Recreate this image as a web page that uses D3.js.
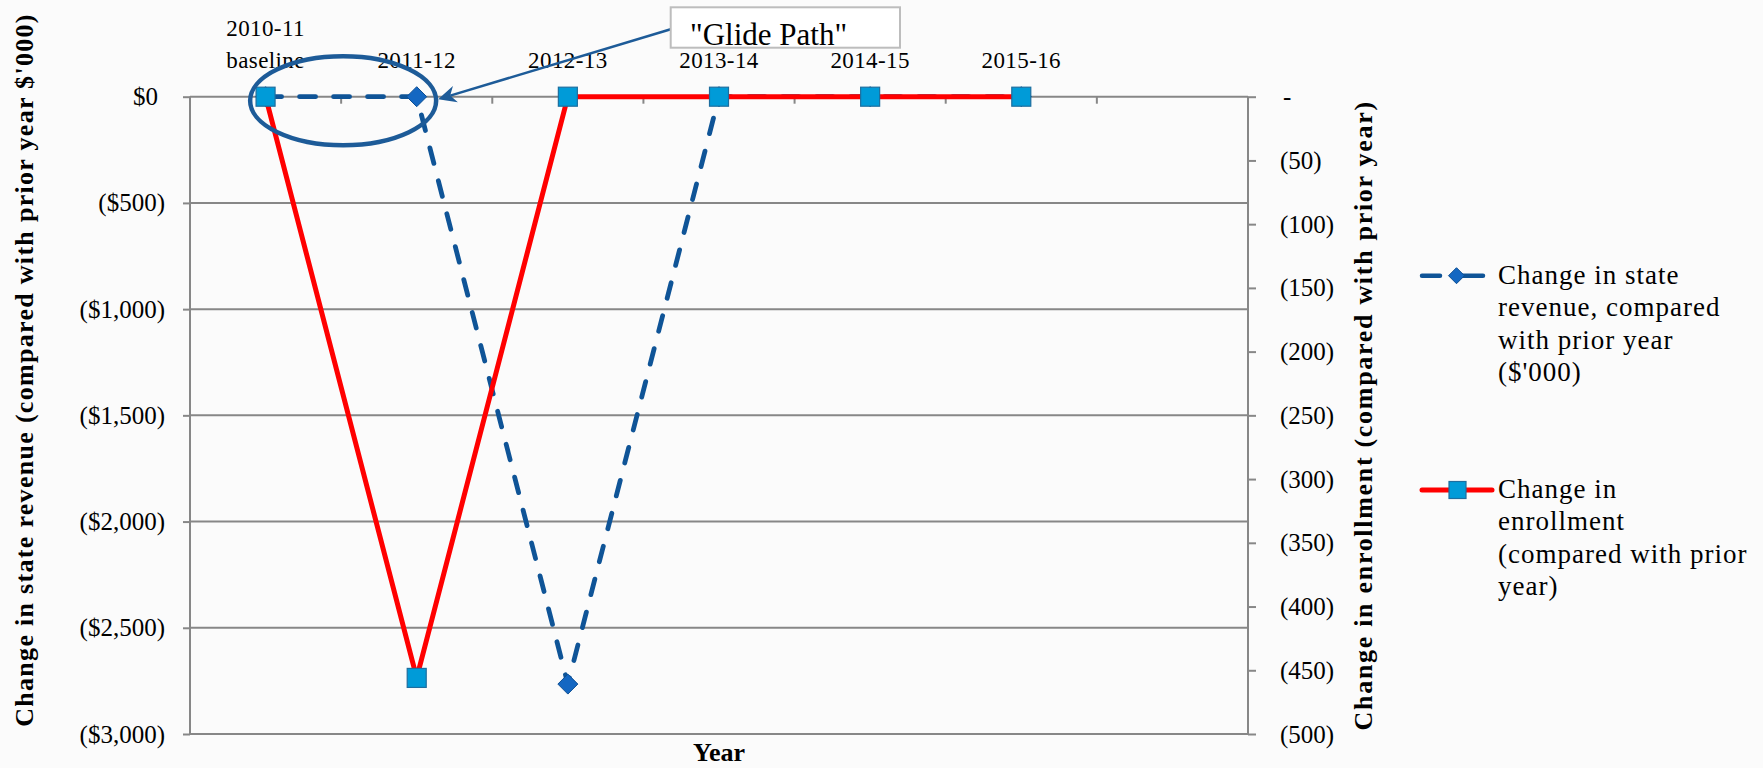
<!DOCTYPE html>
<html>
<head>
<meta charset="utf-8">
<script src="https://cdn.jsdelivr.net/npm/d3@7"></script>
<style>
  html, body { margin: 0; padding: 0; background: #fbfbfb; }
  svg { display: block; }
  text { font-family: "Liberation Serif", "Times New Roman", serif; fill: #000; }
</style>
</head>
<body>
<svg id="chart" width="1763" height="768"></svg>
<script>
// Year categories (last slot is an empty category on the axis)
const years = ["2010-11 baseline", "2011-12", "2012-13", "2013-14", "2014-15", "2015-16", ""];
const yearLabels = [["2010-11", "baseline"], ["2011-12"], ["2012-13"], ["2013-14"], ["2014-15"], ["2015-16"], [""]];

// Change in state revenue vs prior year ($'000), left axis
const revenue = [0, 0, -2765, 0, 0, 0];
// Change in enrollment vs prior year, right axis
const enrollment = [0, -456, 0, 0, 0, 0];

// Axis ticks
const revenueTicks = [0, -500, -1000, -1500, -2000, -2500, -3000];
const enrollmentTicks = [0, -50, -100, -150, -200, -250, -300, -350, -400, -450, -500];

// Legend entries
const legendRevenue = ["Change in state", "revenue, compared", "with prior year", "($'000)"];
const legendEnrollment = ["Change in", "enrollment", "(compared with prior", "year)"];

const svg = d3.select("#chart");
const W = 1763, H = 768;
const plot = { left: 190, right: 1248, top: 96.7, bottom: 734 };

const x = d3.scaleBand().domain(years).range([plot.left, plot.right]);
const yL = d3.scaleLinear().domain([-3000, 0]).range([plot.bottom, plot.top]);
const yR = d3.scaleLinear().domain([-500, 0]).range([plot.bottom, plot.top]);
const cx = d => x(d) + x.bandwidth() / 2;

const gridColor = "#878787";
const dashBlue = "#0F5497";
const diamondFill = "#1467C2";
const diamondStroke = "#0D4F93";
const squareFill = "#009BD8";
const squareStroke = "#1D6E9F";
const annotBlue = "#1D5B98";

svg.append("rect").attr("width", W).attr("height", H).attr("fill", "#fbfbfb");

// Horizontal gridlines
svg.append("g").selectAll("line").data(revenueTicks.filter(v => v !== 0)).join("line")
  .attr("x1", plot.left).attr("x2", plot.right)
  .attr("y1", d => yL(d)).attr("y2", d => yL(d))
  .attr("stroke", gridColor).attr("stroke-width", 2);

// Left axis
const leftAxis = d3.axisLeft(yL).tickValues(revenueTicks).tickSize(7).tickPadding(0)
  .tickFormat(v => v === 0 ? "$0" : "($" + d3.format(",")(-v) + ")");
const gL = svg.append("g").attr("transform", `translate(${plot.left},0)`).call(leftAxis);
gL.select(".domain").remove();
gL.selectAll(".tick line").attr("stroke", gridColor).attr("stroke-width", 2);
gL.selectAll(".tick text")
  .attr("x", v => v === 0 ? -32 : -25)
  .attr("dy", "0.32em")
  .style("font-size", "25px").style("font-family", "Liberation Serif, serif").attr("fill", "#000");
svg.append("line").attr("x1", plot.left).attr("x2", plot.left)
  .attr("y1", plot.top).attr("y2", plot.bottom)
  .attr("stroke", gridColor).attr("stroke-width", 2);

// Right axis
const rightAxis = d3.axisRight(yR).tickValues(enrollmentTicks).tickSize(8).tickPadding(0)
  .tickFormat(v => v === 0 ? "-" : "(" + (-v) + ")");
const gR = svg.append("g").attr("transform", `translate(${plot.right},0)`).call(rightAxis);
gR.select(".domain").remove();
gR.selectAll(".tick line").attr("stroke", gridColor).attr("stroke-width", 2);
gR.selectAll(".tick text")
  .attr("x", v => v === 0 ? 35 : 32)
  .attr("dy", "0.32em")
  .style("font-size", "25px").style("font-family", "Liberation Serif, serif").attr("fill", "#000");
svg.append("line").attr("x1", plot.right).attr("x2", plot.right)
  .attr("y1", plot.top).attr("y2", plot.bottom)
  .attr("stroke", gridColor).attr("stroke-width", 2);

// Category axis along the zero line
const xAxisY = yL(0);
svg.append("line").attr("x1", plot.left).attr("x2", plot.right)
  .attr("y1", xAxisY).attr("y2", xAxisY)
  .attr("stroke", gridColor).attr("stroke-width", 2);
svg.append("g").selectAll("line").data(years).join("line")
  .attr("x1", d => x(d)).attr("x2", d => x(d))
  .attr("y1", xAxisY).attr("y2", xAxisY + 7)
  .attr("stroke", gridColor).attr("stroke-width", 2);
const catText = svg.append("g").selectAll("text").data(years).join("text")
  .attr("text-anchor", "middle")
  .style("font-size", "23px").style("letter-spacing", "0.4px");
catText.each(function (d, i) {
  const lines = yearLabels[i];
  const t = d3.select(this);
  lines.forEach((ln, j) => {
    t.append("tspan").attr("x", cx(d))
      .attr("y", xAxisY - 28.5 - (lines.length - 1 - j) * 32.5)
      .text(ln);
  });
});

// Revenue series (dashed, left axis)
const revLine = d3.line().x((d, i) => cx(years[i])).y(d => yL(d));
svg.append("path").datum(revenue).attr("d", revLine)
  .attr("fill", "none").attr("stroke", dashBlue).attr("stroke-width", 4.8)
  .attr("stroke-dasharray", "16 18").attr("stroke-linecap", "round");
const diamond = r => `M0,${-r}L${r},0L0,${r}L${-r},0Z`;
svg.append("g").selectAll("path").data(revenue).join("path")
  .attr("transform", (d, i) => `translate(${cx(years[i])},${yL(d)})`)
  .attr("d", diamond(10))
  .attr("fill", diamondFill).attr("stroke", diamondStroke).attr("stroke-width", 1);

// Enrollment series (solid red, right axis)
const enrLine = d3.line().x((d, i) => cx(years[i])).y(d => yR(d));
svg.append("path").datum(enrollment).attr("d", enrLine)
  .attr("fill", "none").attr("stroke", "#FF0000").attr("stroke-width", 5)
  .attr("stroke-linejoin", "miter");
svg.append("g").selectAll("rect").data(enrollment).join("rect")
  .attr("x", (d, i) => cx(years[i]) - 9.5).attr("y", d => yR(d) - 9.5)
  .attr("width", 19).attr("height", 19)
  .attr("fill", squareFill).attr("stroke", squareStroke).attr("stroke-width", 1.2);

// Axis titles
svg.append("text")
  .attr("transform", `translate(33,370) rotate(-90)`)
  .attr("text-anchor", "middle")
  .style("font-size", "26px").style("font-weight", "bold").style("letter-spacing", "1.3px")
  .text("Change in state revenue (compared with prior year $'000)");
svg.append("text")
  .attr("transform", `translate(1372,${(plot.top + plot.bottom) / 2}) rotate(-90)`)
  .attr("text-anchor", "middle")
  .style("font-size", "26px").style("font-weight", "bold").style("letter-spacing", "1.7px")
  .text("Change in enrollment (compared with prior year)");
svg.append("text")
  .attr("x", (plot.left + plot.right) / 2).attr("y", 761)
  .attr("text-anchor", "middle")
  .style("font-size", "26px").style("font-weight", "bold")
  .text("Year");

// Legend
const lg = svg.append("g");
const l1y = 275.7;
lg.append("line").attr("x1", 1422).attr("x2", 1483).attr("y1", l1y).attr("y2", l1y)
  .attr("stroke", dashBlue).attr("stroke-width", 4.5)
  .attr("stroke-dasharray", "18 14 40").attr("stroke-linecap", "round");
lg.append("path").attr("transform", `translate(1456.5,${l1y})`).attr("d", diamond(8))
  .attr("fill", diamondFill).attr("stroke", diamondStroke).attr("stroke-width", 1);
const lt1 = lg.append("text").style("font-size", "27px").style("letter-spacing", "1px");
legendRevenue.forEach((s, i) => lt1.append("tspan").attr("x", 1498).attr("y", 283.5 + i * 32.5).text(s));

const l2y = 490;
lg.append("line").attr("x1", 1422).attr("x2", 1492).attr("y1", l2y).attr("y2", l2y)
  .attr("stroke", "#FF0000").attr("stroke-width", 5).attr("stroke-linecap", "round");
lg.append("rect").attr("x", 1449).attr("y", l2y - 8.5).attr("width", 17).attr("height", 17)
  .attr("fill", squareFill).attr("stroke", squareStroke).attr("stroke-width", 1.2);
const lt2 = lg.append("text").style("font-size", "27px").style("letter-spacing", "1px");
legendEnrollment.forEach((s, i) => lt2.append("tspan").attr("x", 1498).attr("y", 497.5 + i * 32.5).text(s));

// "Glide Path" annotation: ellipse around the first two years, arrow and callout
const ex = (cx(years[0]) + cx(years[1])) / 2;
svg.append("ellipse")
  .attr("cx", ex + 2).attr("cy", xAxisY + 4)
  .attr("rx", 93).attr("ry", 44.5)
  .attr("fill", "none").attr("stroke", annotBlue).attr("stroke-width", 4.5);

const tip = [ex + 97, xAxisY + 2.5];
const tail = [670.7, 29.3];
const ang = Math.atan2(tip[1] - tail[1], tip[0] - tail[0]);
const aLen = 18, aWid = 8.5;
const back = [tip[0] - aLen * Math.cos(ang), tip[1] - aLen * Math.sin(ang)];
const notch = [tip[0] - aLen * 0.7 * Math.cos(ang), tip[1] - aLen * 0.7 * Math.sin(ang)];
svg.append("line")
  .attr("x1", tail[0]).attr("y1", tail[1]).attr("x2", notch[0]).attr("y2", notch[1])
  .attr("stroke", annotBlue).attr("stroke-width", 2.5);
svg.append("path")
  .attr("d", `M${tip[0]},${tip[1]}`
    + `L${back[0] + aWid * Math.sin(ang)},${back[1] - aWid * Math.cos(ang)}`
    + `L${notch[0]},${notch[1]}`
    + `L${back[0] - aWid * Math.sin(ang)},${back[1] + aWid * Math.cos(ang)}Z`)
  .attr("fill", annotBlue);

svg.append("rect").attr("x", 670.7).attr("y", 7.3).attr("width", 229.3).attr("height", 40.4)
  .attr("fill", "#ffffff").attr("stroke", "#BDBDBD").attr("stroke-width", 2);
svg.append("text").attr("x", 690).attr("y", 44.5)
  .style("font-size", "31px")
  .text("\"Glide Path\"");
</script>
</body>
</html>
